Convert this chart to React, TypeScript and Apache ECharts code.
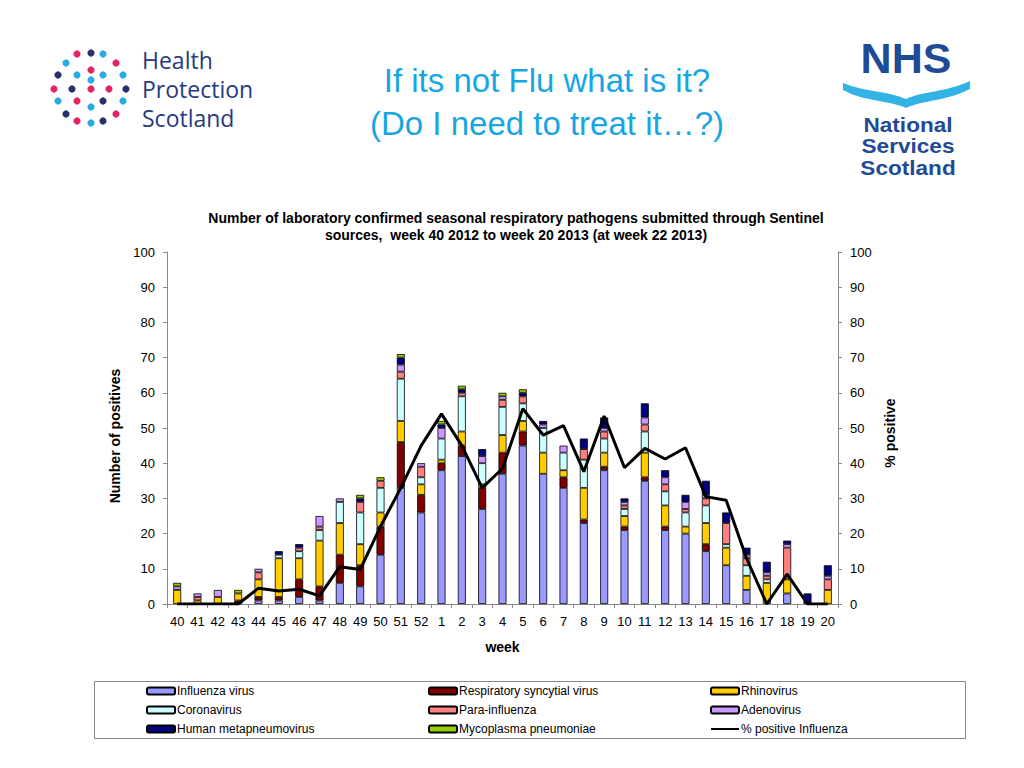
import React, { useEffect, useRef } from "react";
import * as echarts from "echarts";

const weeks = ["40","41","42","43","44","45","46","47","48","49","50","51","52","1","2","3","4","5","6","7","8","9","10","11","12","13","14","15","16","17","18","19","20"];

const influenza = [0,0,0,0,1,1,2,1,6,5,14,33,26,38,42,27,37,45,37,33,23,38,21,35,21,20,15,11,4,0,3,0,0];
const rsv =       [0,0,0,1,1,1,5,4,8,6,8,13,5,2,3,6,6,4,0,3,1,1,1,1,1,0,2,0,0,0,0,0,0];
const rhino =     [4,1,2,2,5,11,6,13,9,6,4,6,3,1,4,1,5,3,6,2,9,4,3,7,6,2,6,5,4,6,4,0,4];
const corona =    [0,0,0,0,0,1,2,3,6,9,7,12,2,6,10,6,8,5,7,5,8,4,2,6,4,4,5,1,3,1,0,0,0];
const para =      [0,1,0,0,2,0,1,1,0,3,2,2,3,0,1,0,2,2,0,0,3,2,1,2,2,1,2,6,2,1,9,0,3];
const adeno =     [1,1,2,0,1,0,0,3,1,0,0,2,1,3,0,2,1,0,1,2,0,1,1,2,2,2,1,0,1,1,1,0,1];
const hmpv =      [0,0,0,0,0,1,1,0,0,1,0,2,0,1,1,2,0,1,1,0,3,3,1,4,2,2,4,3,2,3,1,3,3];
const myco =      [1,0,0,1,0,0,0,0,0,1,1,1,0,1,1,0,1,1,0,0,0,0,0,0,0,0,0,0,0,0,0,0,0];
const pctFlu =    [0,0,0,0,4.5,3.7,4.2,2.3,10.6,9.8,22,33,45,54,45,33,38.5,55.5,48,50.7,37.6,53.4,38.7,44.2,41.2,44.4,30.5,29.5,13,0,8.5,0,0];

const axisTicks = [0, 10, 20, 30, 40, 50, 60, 70, 80, 90, 100];

const seriesDefs = [
  { name: "Influenza virus", data: influenza, color: "#9999FF" },
  { name: "Respiratory syncytial virus", data: rsv, color: "#800000" },
  { name: "Rhinovirus", data: rhino, color: "#FFCC00" },
  { name: "Coronavirus", data: corona, color: "#CCFFFF" },
  { name: "Para-influenza", data: para, color: "#FF8080" },
  { name: "Adenovirus", data: adeno, color: "#CC99FF" },
  { name: "Human metapneumovirus", data: hmpv, color: "#000080" },
  { name: "Mycoplasma pneumoniae", data: myco, color: "#99CC00" },
];
const lineName = "% positive Influenza";

const FONT = '"Liberation Sans", Arial, sans-serif';

let registered = false;
function registerShapes() {
  if (registered) return;
  registered = true;
  const d =
    "M0,2 C22,11 46,10 63,18 C80,10 104,11 127,0 L127,8 C104,20 80,19 63,27 C46,19 22,21 0,9 Z";
  echarts.graphic.registerShape("nhswave", echarts.graphic.extendPath(d, {}) as any);
}

const dotColors: Record<string, string> = { r: "#E2275F", c: "#2AACE2", n: "#29306E" };
const dots: [number, number, string][] = [
  [77, 54, "r"], [91, 53, "n"], [103, 54, "c"],
  [66, 63, "c"], [116, 63, "r"], [91, 70, "r"],
  [58, 75, "n"], [77, 75, "c"], [103, 75, "c"], [123, 75, "c"],
  [91, 80, "c"],
  [54, 89, "r"], [72, 89, "n"], [91, 89, "r"], [109, 89, "r"], [126, 89, "n"],
  [58, 101, "c"], [77, 101, "r"], [103, 101, "n"], [123, 101, "c"],
  [91, 107, "c"],
  [66, 114, "n"], [116, 114, "r"],
  [77, 121, "r"], [91, 123, "c"], [103, 121, "n"],
];

export default function App() {
  const ref = useRef<HTMLDivElement>(null);
  useEffect(() => {
    document.body.style.margin = "0";
    registerShapes();
    const chart = echarts.init(ref.current!, null, { renderer: "svg" });

    const barSeries = seriesDefs.map((s) => ({
      name: s.name,
      type: "bar",
      stack: "total",
      barWidth: 8,
      data: s.data.map((v) => (v === 0 ? null : v)),
      itemStyle: { color: s.color, borderColor: "#000", borderWidth: 0.8 },
      emphasis: { disabled: true },
    }));

    const axisLabelStyle = { color: "#000", fontSize: 13, fontFamily: FONT };
    const yAxisCommon = {
      type: "value",
      min: axisTicks[0],
      max: axisTicks[axisTicks.length - 1],
      interval: axisTicks[1] - axisTicks[0],
      splitLine: { show: false },
      axisLine: { show: true, lineStyle: { color: "#888", width: 1 } },
      axisTick: { show: true, length: 4, lineStyle: { color: "#888" } },
      axisLabel: { ...axisLabelStyle, margin: 12 },
      nameLocation: "middle",
      nameRotate: 90,
    };
    const nameStyle = { color: "#000", fontSize: 14, fontWeight: "bold", fontFamily: FONT };

    const legendCommon = {
      orient: "vertical",
      top: 685,
      padding: 0,
      itemWidth: 28,
      itemHeight: 7,
      itemGap: 7,
      textStyle: { color: "#000", fontSize: 12, fontFamily: FONT, padding: [0, 0, 0, -3] },
      selectedMode: false,
    };

    const graphics: any[] = [];
    dots.forEach(([x, y, c]) =>
      graphics.push({ type: "circle", shape: { cx: x, cy: y, r: 3.6 }, style: { fill: dotColors[c] } })
    );
    graphics.push({
      type: "text",
      x: 142,
      y: 89,
      style: {
        text: "Health\nProtection\nScotland",
        fill: "#273A80",
        font: 'normal 23px "Open Sans", sans-serif',
        lineHeight: 29,
        textVerticalAlign: "middle",
      },
    });
    graphics.push({
      type: "text",
      x: 906,
      y: 58,
      style: { text: "NHS", fill: "#1F4A96", font: 'bold 43px "Liberation Sans", Arial, sans-serif', textAlign: "center", textVerticalAlign: "middle" },
    });
    graphics.push({ type: "nhswave", x: 843, y: 81, style: { fill: "#33B2E5" } });
    graphics.push({
      type: "text",
      x: 908,
      y: 146.5,
      scaleX: 1.13,
      style: {
        text: "National\nServices\nScotland",
        fill: "#1F4A96",
        font: 'bold 20px "Liberation Sans", Arial, sans-serif',
        lineHeight: 21.5,
        textAlign: "center",
        textVerticalAlign: "middle",
      },
    });
    graphics.push({
      type: "text",
      x: 547,
      y: 101.5,
      style: {
        text: "If its not Flu what is it?\n(Do I need to treat it\u2026?)",
        fill: "#18A6E2",
        font: 'normal 33px "Liberation Sans", Arial, sans-serif',
        lineHeight: 43,
        textAlign: "center",
        textVerticalAlign: "middle",
      },
    });
    graphics.push({
      type: "text",
      x: 516,
      y: 226,
      style: {
        text: "Number of laboratory confirmed seasonal respiratory pathogens submitted through Sentinel\nsources,  week 40 2012 to week 20 2013 (at week 22 2013)",
        fill: "#000",
        font: 'bold 14px "Liberation Sans", Arial, sans-serif',
        lineHeight: 17,
        textAlign: "center",
        textVerticalAlign: "middle",
      },
    });
    graphics.push({
      type: "rect",
      shape: { x: 94.5, y: 681.5, width: 871, height: 57 },
      style: { fill: "none", stroke: "#888", lineWidth: 1 },
      z: -1,
    });

    chart.setOption({
      animation: false,
      textStyle: { fontFamily: FONT },
      grid: { left: 167, right: 186, top: 252, bottom: 164 },
      xAxis: {
        type: "category",
        data: weeks,
        name: "week",
        nameLocation: "middle",
        nameGap: 36,
        nameTextStyle: nameStyle,
        axisLine: { show: true, lineStyle: { color: "#888" } },
        axisTick: { show: true, length: 4, interval: 0, lineStyle: { color: "#888" } },
        axisLabel: { ...axisLabelStyle, interval: 0, margin: 11 },
      },
      yAxis: [
        { ...yAxisCommon, name: "Number of positives", nameGap: 41, position: "left", nameTextStyle: { ...nameStyle, padding: [0, 16, 0, 0] } },
        { ...yAxisCommon, name: "% positive", nameGap: 38, position: "right", nameTextStyle: { ...nameStyle, padding: [0, 10, 0, 0] } },
      ],
      legend: [
        { ...legendCommon, left: 146, data: ["Influenza virus", "Coronavirus", "Human metapneumovirus"] },
        { ...legendCommon, left: 428, data: ["Respiratory syncytial virus", "Para-influenza", "Mycoplasma pneumoniae"] },
        {
          ...legendCommon,
          left: 710,
          data: ["Rhinovirus", "Adenovirus", { name: lineName, itemStyle: { opacity: 0 } }],
        },
      ],
      graphic: graphics,
      series: [
        ...barSeries,
        {
          name: lineName,
          type: "line",
          yAxisIndex: 1,
          data: pctFlu,
          symbol: "none",
          color: "#000",
          lineStyle: { color: "#000", width: 3 },
          z: 10,
          emphasis: { disabled: true },
        },
      ],
    });
    return () => chart.dispose();
  }, []);
  return <div ref={ref} style={{ width: 1024, height: 768 }} />;
}
